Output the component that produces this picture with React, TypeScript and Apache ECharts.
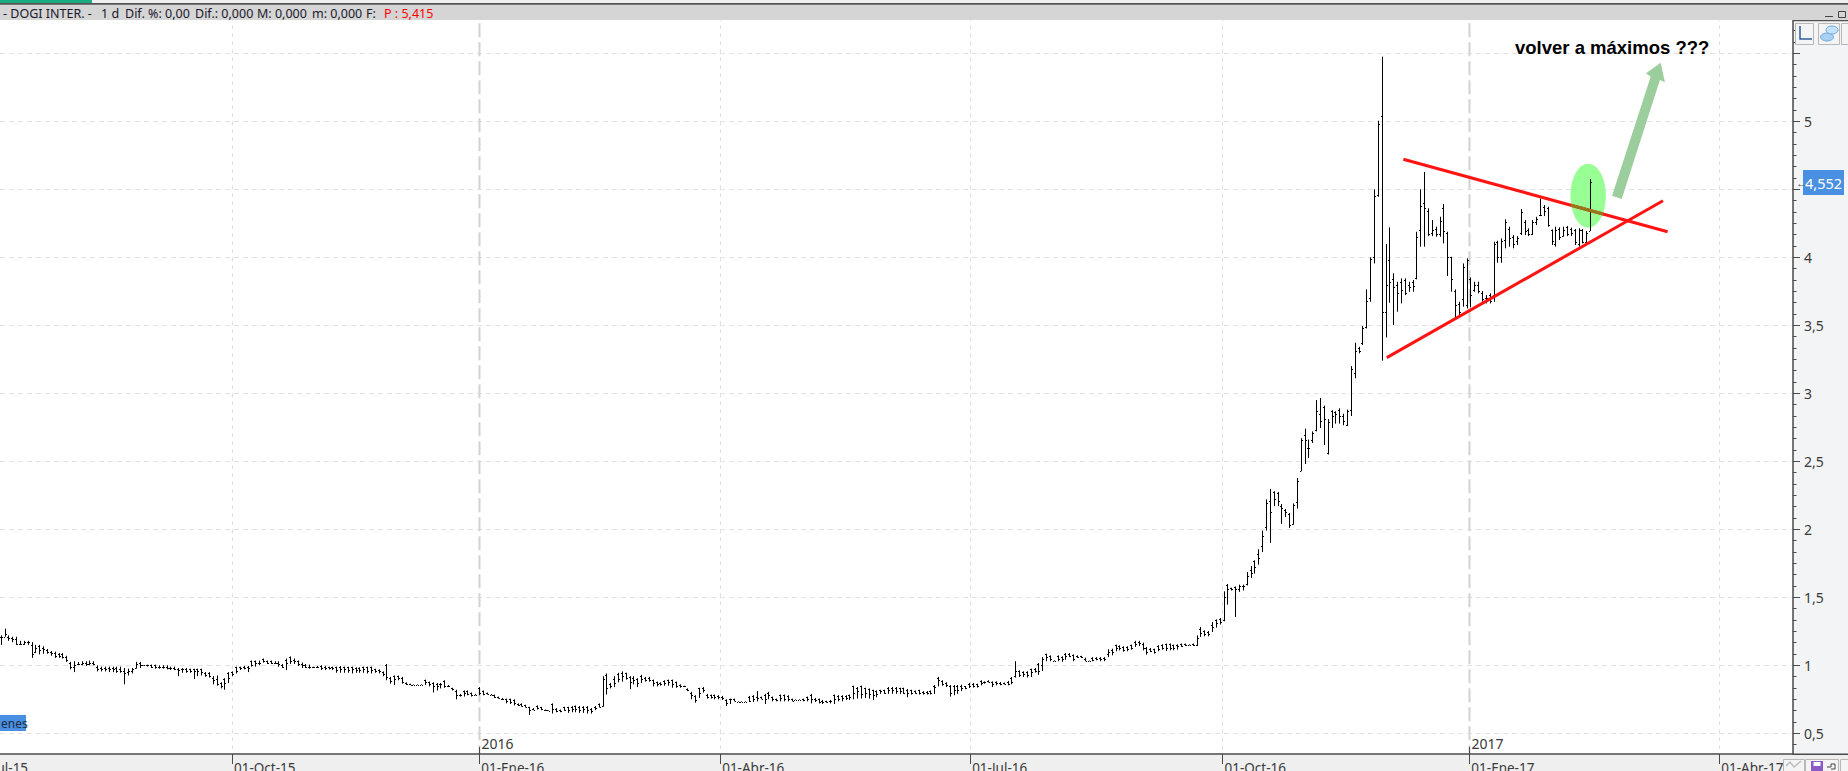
import React, { useEffect, useRef } from "react";
import * as echarts from "echarts";

const highs = [
1.22,1.27,1.22,1.21,1.21,1.18,1.18,1.18,1.17,1.15,
1.15,1.14,1.12,1.105,1.10,1.09,1.09,1.07,1.025,1.03,
1.025,1.03,1.03,1.035,1.03,1.0,.99,.99,.99,.99,
.99,.99,.98,.975,.98,1.025,1.025,1.0,1.005,1.005,
1.005,1.0,1.0,1.0,.99,.99,.98,.98,.98,.975,
.975,.975,.975,.95,.95,.92,.925,.875,.905,.95,
.955,.99,.99,.995,.995,1.035,1.035,1.035,1.05,1.035,
1.035,1.03,1.03,1.01,1.05,1.065,1.05,1.035,1.02,1.01,
1.005,.99,.995,1.0,.995,.99,.99,.99,.995,.99,
.99,.99,.985,.985,.99,.99,.99,.975,.97,.955,
1.01,.915,.925,.925,.915,.875,.865,.86,.86,.86,
.895,.88,.875,.87,.87,.89,.855,.835,.82,.79,
.815,.815,.80,.79,.84,.815,.80,.79,.785,.77,
.76,.755,.755,.75,.72,.72,.71,.695,.685,.705,
.695,.675,.67,.72,.685,.675,.695,.695,.70,.705,
.70,.70,.70,.685,.70,.72,.92,.94,.87,.92,
.945,.955,.945,.92,.92,.905,.93,.915,.915,.895,
.88,.875,.89,.895,.895,.88,.86,.85,.83,.805,
.78,.835,.84,.79,.785,.785,.78,.775,.75,.755,
.755,.735,.735,.735,.775,.78,.81,.77,.79,.805,
.77,.755,.785,.785,.78,.755,.75,.75,.755,.77,
.79,.76,.755,.745,.74,.745,.785,.78,.78,.78,
.785,.85,.84,.85,.835,.83,.82,.815,.82,.82,
.84,.84,.84,.835,.835,.825,.82,.815,.82,.81,
.81,.815,.855,.915,.89,.875,.855,.855,.855,.858,
.848,.87,.87,.865,.89,.882,.89,.882,.882,.877,
.873,.885,.914,1.03,.963,.956,.956,.975,.98,1.017,
1.06,1.086,1.073,1.037,1.073,1.066,1.09,1.09,1.08,1.073,
1.07,1.056,1.035,1.06,1.06,1.06,1.06,1.118,1.122,1.152,
1.147,1.14,1.14,1.152,1.18,1.18,1.167,1.135,1.127,1.122,
1.147,1.154,1.16,1.16,1.152,1.154,1.16,1.16,1.154,1.16,
1.22,1.282,1.257,1.252,1.319,1.338,1.348,1.544,1.598,1.571,
1.58,1.593,1.593,1.686,1.73,1.772,1.853,1.99,2.22,2.297,
2.28,2.275,2.186,2.15,2.12,2.19,2.377,2.67,2.74,2.66,
2.72,2.95,2.965,2.91,2.81,2.875,2.868,2.89,2.85,2.88,
3.2,3.372,3.342,3.494,3.764,4.0,4.5,5.004,5.475,4.098,
4.22,3.882,3.82,3.845,3.845,3.82,3.833,4.188,4.5,4.627,
4.36,4.274,4.225,4.298,4.392,4.188,4.004,3.764,3.673,3.955,
3.992,3.852,3.82,3.82,3.752,3.722,3.735,4.115,4.122,4.139,
4.279,4.225,4.164,4.156,4.355,4.274,4.213,4.274,4.298,4.433,
4.384,4.372,4.205,4.225,4.22,4.225,4.23,4.218,4.208,4.213,
4.208,4.193,4.575,
];

const lows = [
1.15,1.21,1.18,1.17,1.15,1.15,1.15,1.15,1.055,1.09,
1.08,1.085,1.085,1.07,1.055,1.055,1.05,1.025,0.97,0.95,
1.0,1.0,.995,1.0,1.0,.955,.955,.955,.95,.95,
.945,.945,.86,.925,.94,.975,.98,.995,.99,.98,
.975,.975,.975,.97,.965,.965,.92,.945,.945,.945,
.90,.92,.925,.915,.91,.86,.85,.83,.82,.87,
.92,.94,.965,.97,.95,.99,.99,1.0,1.02,1.01,
1.01,1.01,.99,.98,.965,1.01,1.01,.995,.98,.98,
.975,.98,.98,.965,.965,.97,.965,.945,.945,.945,
.945,.94,.945,.945,.945,.94,.94,.945,.94,.92,
.89,.865,.855,.89,.865,.855,.855,.855,.855,.855,
.855,.845,.80,.815,.83,.835,.84,.815,.75,.77,
.77,.78,.77,.78,.78,.78,.785,.78,.76,.755,
.745,.72,.715,.705,.70,.695,.69,.635,.67,.675,
.67,.665,.665,.645,.655,.655,.665,.65,.655,.655,
.65,.65,.645,.645,.67,.69,.695,.785,.83,.84,
.875,.88,.895,.825,.86,.84,.87,.88,.88,.845,
.845,.85,.85,.85,.835,.835,.835,.84,.81,.75,
.725,.76,.80,.755,.755,.75,.75,.745,.70,.715,
.735,.73,.73,.73,.73,.73,.735,.75,.715,.75,
.735,.735,.735,.735,.735,.735,.745,.745,.735,.735,
.72,.73,.72,.715,.725,.72,.715,.735,.735,.745,
.745,.75,.755,.755,.76,.755,.745,.765,.79,.79,
.79,.79,.79,.79,.79,.765,.785,.79,.785,.785,
.785,.785,.79,.845,.85,.84,.77,.78,.79,.81,
.824,.833,.836,.836,.853,.865,.873,.84,.853,.853,
.858,.853,.86,.91,.914,.914,.91,.914,.946,.93,
.958,1.03,1.03,1.03,1.03,1.025,1.04,1.06,1.03,1.054,
1.054,1.03,1.03,1.03,1.037,1.03,1.03,1.06,1.073,1.103,
1.11,1.10,1.103,1.115,1.135,1.142,1.11,1.078,1.098,1.086,
1.103,1.115,1.105,1.11,1.11,1.115,1.135,1.142,1.147,1.142,
1.142,1.208,1.213,1.213,1.245,1.277,1.30,1.324,1.446,1.55,
1.355,1.54,1.55,1.588,1.642,1.674,1.74,1.833,1.99,1.90,
2.17,2.17,2.04,2.09,2.01,2.034,2.152,2.427,2.48,2.525,
2.635,2.72,2.745,2.62,2.55,2.745,2.777,2.777,2.765,2.76,
2.833,3.11,3.294,3.355,3.477,3.673,3.955,4.445,3.24,3.411,
3.666,3.502,3.60,3.661,3.722,3.747,3.747,3.838,4.078,4.078,
4.156,4.156,4.151,4.151,4.102,3.862,3.747,3.558,3.575,3.637,
3.624,3.632,3.747,3.735,3.673,3.661,3.661,3.673,3.96,3.96,
4.066,4.078,4.066,4.09,4.164,4.164,4.156,4.164,4.237,4.303,
4.303,4.225,4.09,4.078,4.127,4.151,4.156,4.156,4.09,4.078,
4.102,4.102,4.193,
];

const opens = [
1.21,1.21,1.21,1.20,1.19,1.16,1.16,1.17,1.15,1.10,
1.14,1.13,1.11,1.10,1.09,1.08,1.08,1.06,1.02,0.99,
1.01,1.01,1.02,1.01,1.02,.99,.98,.98,.98,.98,
.98,.97,.96,.95,.96,.98,1.02,1.0,1.0,1.0,
1.0,.99,.99,.99,.98,.98,.97,.97,.975,.97,
.97,.97,.97,.945,.94,.91,.90,.87,.90,.94,
.95,.985,.985,.99,.985,1.03,1.03,1.02,1.045,1.03,
1.03,1.02,1.02,1.0,1.04,1.06,1.04,1.03,1.01,1.0,
.99,.985,.985,.995,.99,.985,.985,.985,.99,.985,
.985,.985,.98,.98,.985,.985,.985,.97,.965,.95,
1.0,.91,.92,.92,.91,.87,.86,.858,.858,.858,
.89,.875,.87,.865,.865,.885,.85,.83,.81,.785,
.81,.81,.795,.785,.835,.81,.795,.785,.78,.765,
.755,.75,.75,.745,.715,.715,.705,.69,.68,.70,
.69,.672,.668,.715,.68,.67,.69,.69,.695,.70,
.695,.695,.695,.68,.695,.715,.70,.93,.865,.90,
.935,.945,.94,.915,.91,.90,.925,.91,.905,.89,
.875,.87,.885,.89,.89,.875,.855,.845,.825,.80,
.775,.83,.835,.785,.78,.78,.775,.77,.745,.75,
.75,.733,.733,.733,.77,.775,.765,.765,.785,.80,
.765,.75,.78,.78,.775,.75,.748,.748,.75,.765,
.785,.755,.75,.74,.735,.74,.78,.775,.775,.775,
.78,.845,.835,.845,.83,.825,.815,.81,.815,.815,
.835,.835,.835,.83,.83,.82,.815,.81,.815,.805,
.805,.81,.85,.91,.885,.87,.85,.85,.85,.85,
.845,.865,.865,.86,.885,.878,.885,.878,.878,.873,
.87,.88,.91,.92,.955,.95,.95,.97,.975,1.01,
1.0,1.08,1.065,1.035,1.065,1.06,1.085,1.085,1.075,1.065,
1.065,1.05,1.033,1.055,1.055,1.055,1.055,1.08,1.115,1.148,
1.14,1.135,1.135,1.148,1.175,1.175,1.16,1.13,1.12,1.118,
1.14,1.15,1.155,1.155,1.148,1.15,1.155,1.155,1.152,1.155,
1.15,1.27,1.25,1.245,1.30,1.33,1.34,1.335,1.59,1.565,
1.575,1.56,1.58,1.60,1.70,1.765,1.82,1.88,2.02,2.21,
2.275,2.27,2.175,2.14,2.115,2.04,2.20,2.43,2.69,2.60,
2.66,2.73,2.85,2.90,2.56,2.87,2.86,2.88,2.83,2.77,
2.88,3.15,3.33,3.37,3.49,3.70,4.0,4.46,5.04,3.60,
3.98,3.84,3.80,3.82,3.83,3.80,3.82,3.85,4.2,4.4,
4.34,4.18,4.21,4.17,4.36,4.18,4.0,3.75,3.66,3.69,
3.65,3.84,3.76,3.80,3.74,3.70,3.72,3.72,4.11,4.0,
4.13,4.21,4.15,4.12,4.18,4.26,4.2,4.17,4.26,4.31,
4.37,4.36,4.2,4.1,4.21,4.16,4.22,4.21,4.2,4.1,
4.2,4.11,4.19,
];

const closes = [
1.21,1.23,1.20,1.19,1.16,1.16,1.17,1.17,1.08,1.13,
1.11,1.12,1.10,1.09,1.07,1.07,1.06,1.04,0.99,1.00,
1.01,1.02,1.01,1.02,1.01,.97,.97,.97,.97,.97,
.96,.96,.94,.96,.97,1.01,1.0,1.0,1.0,.99,
.99,.985,.985,.98,.98,.97,.965,.97,.96,.955,
.955,.96,.95,.93,.92,.89,.86,.85,.87,.91,
.935,.96,.98,.98,.98,1.0,1.02,1.02,1.03,1.02,
1.02,1.02,1.01,.99,1.02,1.03,1.03,1.01,1.0,.99,
.985,.985,.99,.98,.98,.98,.98,.965,.97,.97,
.965,.97,.965,.965,.97,.96,.965,.96,.955,.935,
.915,.885,.90,.905,.875,.86,.858,.858,.858,.858,
.875,.865,.85,.85,.86,.85,.845,.825,.785,.78,
.80,.79,.78,.785,.80,.79,.79,.783,.77,.76,
.75,.735,.73,.72,.71,.70,.695,.67,.675,.685,
.68,.668,.667,.68,.665,.665,.675,.675,.68,.68,
.675,.68,.67,.665,.685,.695,.90,.83,.85,.87,
.90,.92,.91,.88,.89,.87,.90,.895,.89,.87,
.86,.86,.87,.875,.86,.85,.845,.845,.82,.78,
.745,.80,.82,.77,.77,.765,.765,.76,.72,.75,
.735,.733,.733,.733,.74,.75,.76,.755,.75,.78,
.75,.745,.76,.755,.75,.74,.747,.747,.745,.75,
.755,.745,.73,.73,.73,.735,.75,.755,.76,.76,
.765,.80,.81,.79,.80,.79,.78,.79,.81,.80,
.815,.815,.81,.81,.80,.80,.80,.80,.80,.795,
.795,.80,.84,.89,.865,.855,.80,.82,.82,.83,
.83,.85,.85,.85,.87,.875,.88,.86,.87,.865,
.865,.865,.88,.96,.93,.935,.93,.95,.96,.96,
1.05,1.06,1.045,1.032,1.05,1.05,1.065,1.07,1.05,1.06,
1.06,1.035,1.032,1.04,1.045,1.045,1.05,1.10,1.10,1.125,
1.125,1.115,1.12,1.13,1.16,1.165,1.13,1.10,1.105,1.10,
1.12,1.13,1.125,1.13,1.13,1.14,1.145,1.15,1.15,1.15,
1.20,1.24,1.23,1.23,1.28,1.31,1.32,1.50,1.56,1.56,
1.56,1.58,1.58,1.66,1.68,1.72,1.79,1.95,2.19,2.13,
2.22,2.21,2.16,2.13,2.03,2.18,2.355,2.66,2.66,2.60,
2.71,2.87,2.80,2.81,2.79,2.83,2.85,2.83,2.80,2.87,
3.18,3.31,3.31,3.48,3.68,3.99,4.45,4.98,3.60,3.80,
3.82,3.78,3.74,3.76,3.74,3.78,3.79,4.15,4.38,4.36,
4.17,4.2,4.17,4.27,4.19,4.0,3.84,3.65,3.60,3.93,
3.98,3.72,3.80,3.75,3.69,3.70,3.68,4.10,4.0,4.12,
4.26,4.14,4.10,4.14,4.33,4.19,4.17,4.26,4.28,4.31,
4.34,4.24,4.12,4.2,4.15,4.2,4.17,4.18,4.11,4.2,
4.11,4.18,4.552,
];

const dateStops = [59.95, 124.05, 186.5, 251.3, 316.7, 380.7, 445.5];
const dateLabels = ["01-Oct-15", "01-Ene-16", "01-Abr-16", "01-Jul-16", "01-Oct-16", "01-Ene-17", "01-Abr-17"];
const yearStops = [124.05, 380.7];
const yearLabels = ["2016", "2017"];

const resistance = [[363.6, 4.721], [432.1, 4.188]];
const resistanceOverlap = [[407.0, 4.383], [415.4, 4.318]];
const support = [[359.3, 3.262], [430.9, 4.416]];
const breakoutCentre = [411.5, 4.453];
const arrowPoints = [[417.7, 4.453], [427.7, 5.328], [426.5, 5.353], [430.3, 5.431], [431.4, 5.287], [430.1, 5.304], [420.2, 4.429]];

const FONT = "'Noto Sans', sans-serif";
const AXIS_COLOR = "#4a4a4a";
const TEXT = "#3a3a3a";
const axisBaseValue = 0.333;
const yearTickTop = 0.4;

function headerText(text: string, x: number, fill = "#20182c") {
  return { type: "text", z: 110, x, y: 13.5, style: { text, fill, font: `12.5px ${FONT}`, textVerticalAlign: "middle" } };
}

function box(x: number, y: number, width: number, height: number, fill = "#f4f4f4") {
  return { type: "rect", z: 300, shape: { x: x + 0.5, y: y + 0.5, width, height }, style: { fill, stroke: "#b8b8b8", lineWidth: 1 } };
}

export default function App() {
  const ref = useRef<HTMLDivElement>(null);
  useEffect(() => {
    document.body.style.margin = "0";
    document.body.style.overflow = "hidden";
    const chart = echarts.init(ref.current!, undefined, { renderer: "svg" });
    const bars = highs.map((h, i) => [i, opens[i], h, lows[i], closes[i]]);
    chart.setOption({
      animation: false,
      backgroundColor: "#ffffff",
      grid: { left: 0, top: -14.7, width: 1793, height: 816, containLabel: false, outerBoundsMode: "none" },
      xAxis: {
        type: "value", min: -0.18, max: 464.6, position: "bottom", offset: -47.3, z: 200,
        axisLine: { onZero: false, lineStyle: { color: AXIS_COLOR, width: 1.5 } },
        axisTick: { length: 10, customValues: dateStops, lineStyle: { color: AXIS_COLOR, width: 1 } },
        minorTick: { show: false },
        splitLine: { show: false },
        axisLabel: {
          customValues: dateStops, margin: 7, align: "left", verticalAlign: "top", padding: [0, 0, 0, 2],
          color: TEXT, fontFamily: FONT, fontSize: 13.5, hideOverlap: false,
          formatter: (v: number) => dateLabels[dateStops.indexOf(v)] ?? "",
        },
      },
      yAxis: {
        type: "value", position: "right", min: 0, max: 6, interval: 0.5,
        axisLine: { show: true, onZero: false, lineStyle: { color: AXIS_COLOR, width: 1.5 } },
        axisTick: { show: true, length: 7, lineStyle: { color: AXIS_COLOR } },
        minorTick: { show: true, splitNumber: 6, length: 3.5, lineStyle: { color: AXIS_COLOR } },
        minorSplitLine: { show: false },
        splitLine: { show: true, lineStyle: { color: "#e2e2e2", type: [5, 4], width: 1 } },
        axisLabel: {
          margin: 11, color: TEXT, fontFamily: FONT, fontSize: 14,
          formatter: (v: number) => (v === 0 || v === 4.5 || v === 5.5 || v === 6 ? "" : String(v).replace(".", ",")),
        },
      },
      series: [
        {
          type: "custom", name: "gridVertical", z: 1, silent: true, clip: false,
          data: dateStops.map((d) => [d]),
          encode: { x: 0 },
          renderItem: (_p: any, api: any) => {
            const v = api.value(0);
            const a = api.coord([v, 6]);
            const b = api.coord([v, 0]);
            const isYear = yearStops.includes(v);
            return {
              type: "line",
              shape: { x1: Math.round(a[0]) + 0.5, y1: a[1], x2: Math.round(a[0]) + 0.5, y2: b[1] },
              style: isYear
                ? { stroke: "#d2d2d2", lineWidth: 2, lineDash: [14, 5] }
                : { stroke: "#e0e0e0", lineWidth: 1, lineDash: [4, 4] },
            };
          },
        },
        {
          type: "custom", name: "breakoutEllipse", z: 2, silent: true,
          data: [breakoutCentre],
          encode: { x: 0, y: 1 },
          renderItem: (_p: any, api: any) => {
            const c = api.coord([api.value(0), api.value(1)]);
            return { type: "ellipse", shape: { cx: c[0], cy: c[1], rx: 17.7, ry: 32 }, style: { fill: "#98ff94" } };
          },
        },
        {
          type: "custom", name: "ohlc", z: 3, silent: true,
          data: bars,
          encode: { x: 0, y: [1, 2, 3, 4] },
          renderItem: (_p: any, api: any) => {
            const i = api.value(0);
            const x = Math.round(api.coord([i, 0])[0]) + 0.5;
            const yO = Math.round(api.coord([i, api.value(1)])[1]) + 0.5;
            const yH = api.coord([i, api.value(2)])[1];
            const yL = api.coord([i, api.value(3)])[1];
            const yC = Math.round(api.coord([i, api.value(4)])[1]) + 0.5;
            const style = { stroke: "#000000", lineWidth: 1 };
            return {
              type: "group",
              children: [
                { type: "line", shape: { x1: x, y1: yH, x2: x, y2: yL }, style },
                { type: "line", shape: { x1: x - 1.5, y1: yO, x2: x - 0.5, y2: yO }, style },
                { type: "line", shape: { x1: x + 0.5, y1: yC, x2: x + 1.5, y2: yC }, style },
              ],
            };
          },
        },
        { type: "line", name: "resistance", z: 4, silent: true, symbol: "none", data: resistance, lineStyle: { color: "#ff1414", width: 3 } },
        { type: "line", name: "support", z: 4, silent: true, symbol: "none", data: support, lineStyle: { color: "#ff1414", width: 3 } },
        { type: "line", name: "overlap", z: 5, silent: true, symbol: "none", data: resistanceOverlap, lineStyle: { color: "#96781a", width: 3 } },
        {
          type: "custom", name: "arrow", z: 5, silent: true,
          data: arrowPoints,
          encode: { x: 0, y: 1 },
          renderItem: (p: any, api: any) => {
            if (p.dataIndex !== 0) return null;
            return {
              type: "polygon",
              shape: { points: arrowPoints.map((pt) => api.coord(pt)) },
              style: { fill: "#9ccd9c" },
            };
          },
        },
        {
          type: "custom", name: "yearMarks", z: 6, silent: true, clip: false,
          data: yearStops.map((d) => [d]),
          encode: { x: 0 },
          renderItem: (p: any, api: any) => {
            const v = api.value(0);
            const a = api.coord([v, yearTickTop]);
            const b = api.coord([v, axisBaseValue]);
            const x = Math.round(a[0]) + 0.5;
            return {
              type: "group",
              children: [
                { type: "line", shape: { x1: x, y1: a[1], x2: x, y2: b[1] }, style: { stroke: AXIS_COLOR, lineWidth: 1 } },
                { type: "text", x: x + 2, y: a[1] - 3, style: { text: yearLabels[p.dataIndex], fill: TEXT, font: `14px ${FONT}`, textVerticalAlign: "middle" } },
              ],
            };
          },
        },
      ],
      graphic: [
        { type: "rect", z: -1, shape: { x: 1793, y: 20, width: 55, height: 734 }, style: { fill: "#f3f4f6" } },
        // header
        { type: "rect", z: 100, shape: { x: 0, y: 0, width: 1848, height: 20 }, style: { fill: "#d5d5d5" } },
        { type: "rect", z: 101, shape: { x: 0, y: 0, width: 1848, height: 3 }, style: { fill: "#f0f0f0" } },
        { type: "rect", z: 102, shape: { x: 0, y: 0, width: 92, height: 3 }, style: { fill: "#1bab80" } },
        { type: "rect", z: 102, shape: { x: 0, y: 3, width: 1848, height: 1.7 }, style: { fill: "#555555" } },
        { type: "rect", z: 103, shape: { x: 1793, y: 20, width: 55, height: 1.2 }, style: { fill: "#555555" } },
        headerText("- DOGI INTER. -", 3),
        headerText("1 d", 101),
        headerText("Dif. %: 0,00", 125),
        headerText("Dif.: 0,000", 195),
        headerText("M: 0,000", 257),
        headerText("m: 0,000", 312),
        headerText("F:", 366),
        headerText("P : 5,415", 384, "#ff0000"),
        // footer
        { type: "rect", z: 100, shape: { x: 0, y: 754.7, width: 1848, height: 17 }, style: { fill: "#efefef" } },
        { type: "line", z: 201, shape: { x1: 1793, y1: 754.2, x2: 1848, y2: 754.2 }, style: { stroke: AXIS_COLOR, lineWidth: 1.5 } },
        { type: "text", z: 201, x: -27, y: 761, style: { text: "01-Jul-15", fill: TEXT, font: `13.5px ${FONT}` } },
        // annotations
        { type: "text", z: 120, x: 1515, y: 47.7, style: { text: "volver a máximos ???", fill: "#000000", font: "bold 18.5px 'Liberation Sans', Arial, sans-serif", textVerticalAlign: "middle" } },
        { type: "rect", z: 300, shape: { x: 0, y: 715, width: 26, height: 16 }, style: { fill: "#4a90e2" } },
        { type: "text", z: 301, x: 1, y: 723.5, style: { text: "enes", fill: "#1c2d45", font: `12px ${FONT}`, textVerticalAlign: "middle" } },
        // last price tag
        { type: "rect", z: 300, shape: { x: 1803, y: 170, width: 41, height: 25 }, style: { fill: "#4a90e2" } },
        { type: "text", z: 301, x: 1823.5, y: 183, style: { text: "4,552", fill: "#ffffff", font: `14.5px ${FONT}`, textAlign: "center", textVerticalAlign: "middle" } },
        { type: "text", z: 301, x: 1796, y: 182, style: { text: "←", fill: "#555555", font: `11px ${FONT}`, textVerticalAlign: "middle" } },
        // toolbar, top right
        box(1795, 23, 18, 21),
        { type: "polyline", z: 301, shape: { points: [[1800, 26], [1800, 39], [1812, 39]] }, style: { stroke: "#2b5fa0", fill: "none", lineWidth: 1.5 } },
        box(1818, 23, 21, 21),
        { type: "ellipse", z: 301, shape: { cx: 1827, cy: 37, rx: 6.5, ry: 4 }, style: { fill: "#a8d0f0", stroke: "#6aa8dc", lineWidth: 1 } },
        { type: "ellipse", z: 301, shape: { cx: 1832, cy: 30, rx: 6, ry: 4 }, style: { fill: "#c4e0f6", stroke: "#6aa8dc", lineWidth: 1 } },
        box(1841, 23, 10, 21),
        { type: "line", z: 301, shape: { x1: 1825, y1: 16.5, x2: 1833, y2: 16.5 }, style: { stroke: "#444444", lineWidth: 1 } },
        { type: "rect", z: 301, shape: { x: 1838.5, y: 11.5, width: 7, height: 6 }, style: { fill: "none", stroke: "#444444", lineWidth: 1 } },
        // toolbar, bottom right
        box(1783, 759, 21, 14),
        { type: "polyline", z: 301, shape: { points: [[1786, 766], [1790, 762], [1794, 767], [1801, 761]] }, style: { stroke: "#bdbdbd", fill: "none", lineWidth: 1.5 } },
        box(1805, 759, 33, 14),
        { type: "rect", z: 301, shape: { x: 1811, y: 761, width: 12, height: 10 }, style: { fill: "#8a5ac8" } },
        { type: "rect", z: 302, shape: { x: 1813.5, y: 762, width: 7, height: 4 }, style: { fill: "#ffffff" } },
        { type: "polyline", z: 301, shape: { points: [[1827, 767], [1831, 767], [1831, 764], [1835, 764], [1835, 769], [1831, 769]] }, style: { stroke: "#444444", fill: "none", lineWidth: 1 } },
        box(1840, 759, 10, 14),
      ],
    });
    return () => chart.dispose();
  }, []);
  return <div ref={ref} style={{ width: 1848, height: 771 }} />;
}
